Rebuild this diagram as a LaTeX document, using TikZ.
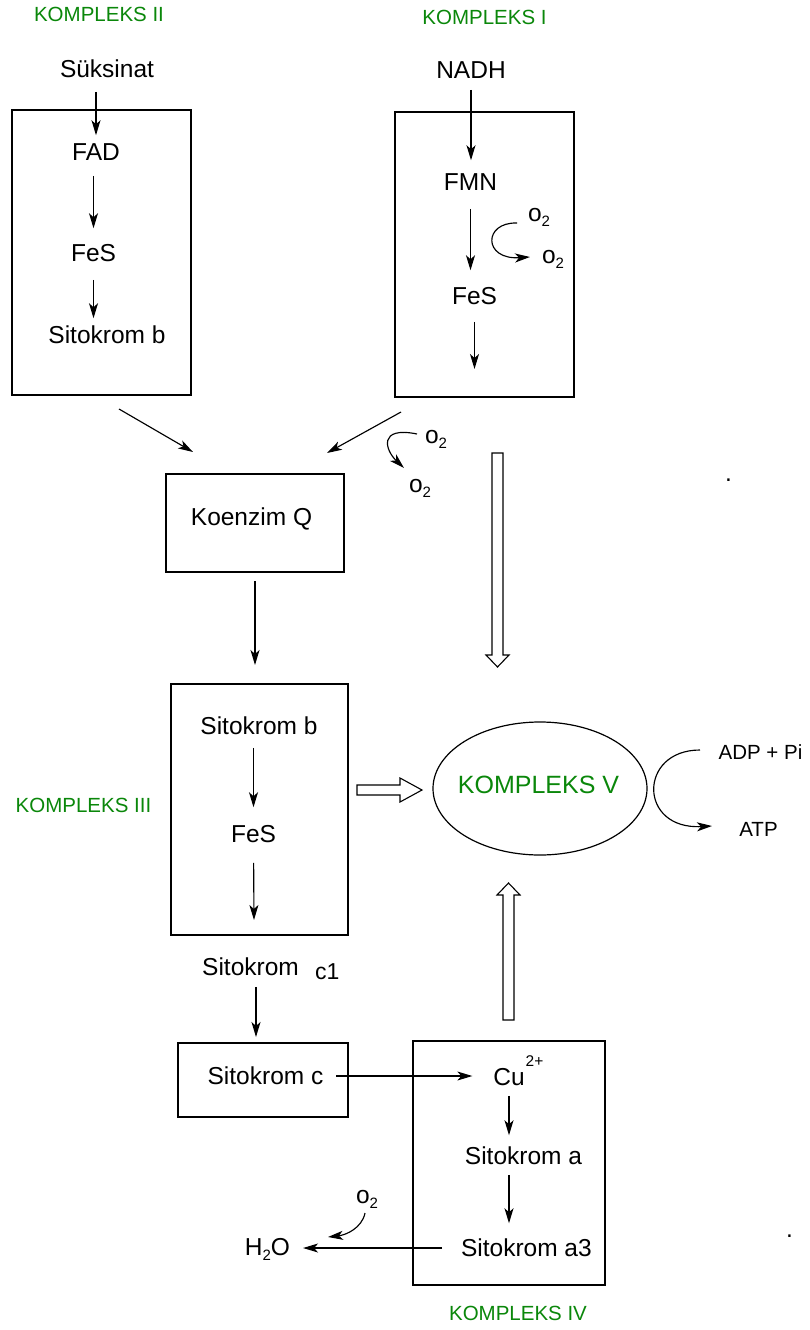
\documentclass[tikz,border=0pt]{standalone}
\usepackage{fontspec}
\setmainfont{Liberation Sans}
\usetikzlibrary{arrows.meta,shapes.geometric}
\definecolor{kgreen}{RGB}{10,135,10}
\newcommand{\oxtwo}{o\raisebox{-5.5pt}{\fontsize{15}{15}\selectfont 2}}
\begin{document}
\begin{tikzpicture}[x=1pt,y=-1pt,
  txt/.style={font=\fontsize{24.5}{29}\selectfont, inner sep=0pt, outer sep=0pt, text height=17.5pt, text depth=0pt},
  lbl/.style={font=\fontsize{20.5}{24}\selectfont, text=kgreen, inner sep=0pt, outer sep=0pt, text height=14.7pt, text depth=0pt},
  sml/.style={font=\fontsize{20.5}{24}\selectfont, inner sep=0pt, outer sep=0pt, text height=14.7pt, text depth=0pt},
  oxl/.style={font=\fontsize{24.5}{29}\selectfont, inner sep=0pt, outer sep=0pt, anchor=base west},
  boxs/.style={draw, line width=1.3pt, inner sep=0pt, outer sep=0pt},
  arr/.style={line width=1.15pt, -{Stealth[length=15pt,width=9pt,inset=4pt]}},
  blk/.style={draw, line width=1.1pt, fill=white, line join=miter}]
\useasboundingbox (0,0) rectangle (809,1330);

% ---------- boxes ----------
\node[boxs, minimum width=179pt, minimum height=285pt] (k2) at (101.5,252.5) {};
\node[boxs, minimum width=179pt, minimum height=285pt] (k1) at (484.5,254.5) {};
\node[boxs, minimum width=178pt, minimum height=98pt] (kq) at (255,523) {};
\node[boxs, minimum width=177pt, minimum height=251pt] (k3) at (259.5,809.5) {};
\node[boxs, minimum width=170pt, minimum height=74pt] (scbox) at (263,1080) {};
\node[boxs, minimum width=192pt, minimum height=244pt] (k4) at (509,1163) {};
\node[draw, ellipse, line width=1.2pt, inner sep=0pt, minimum width=214pt, minimum height=133pt] (k5) at (540,788.5) {};

% ---------- green labels ----------
\node[lbl] (lk2) at (99,14) {KOMPLEKS II};
\node[lbl] (lk1) at (484.5,17) {KOMPLEKS I};
\node[lbl] (lk3) at (83.5,805) {KOMPLEKS III};
\node[lbl] (lk4) at (518,1313) {KOMPLEKS IV};
\node[txt, font=\fontsize{25}{29}\selectfont, text=kgreen] (lk5) at (538.5,785) {KOMPLEKS V};

% ---------- Kompleks II ----------
\node[txt] (suk) at (107,69) {Süksinat};
\node[txt] (fad) at (96,151.5) {FAD};
\node[txt] (fesA) at (93.5,252.5) {FeS};
\node[txt] (sbA) at (107,334.5) {Sitokrom b};
\draw[arr, shorten <=14pt, shorten >=7.5pt] (fad |- suk.south) -- (fad.north);
\draw[arr, shorten <=15.5pt, shorten >=15.5pt] (fad.south -| fesA) -- (fesA.north);
\draw[arr, shorten <=18.5pt, shorten >=7.5pt] (fesA.south) -- (fesA.south |- sbA.north);

% ---------- Kompleks I ----------
\node[txt] (nadh) at (471,70) {NADH};
\node[txt] (fmn) at (470.5,181.5) {FMN};
\node[txt] (fesB) at (474.5,296) {FeS};
\coordinate (k1end) at (474.5,369);
\draw[arr, shorten <=11pt, shorten >=12.5pt] (nadh.south) -- (nadh.south |- fmn.north);
\draw[arr, shorten <=18.5pt, shorten >=17pt] (fmn.south) -- (fmn.south |- fesB.north);
\draw[arr, shorten <=17pt] (fesB.south) -- (k1end);
\node[oxl] (oxA) at (528,221) {\oxtwo};
\node[oxl] (oxB) at (542,263) {\oxtwo};
\coordinate (cA1) at (517,223);
\coordinate (cA2) at (530,257);
\draw[arr] (cA1) .. controls (483,222) and (483,260) .. (cA2);

% ---------- towards Koenzim Q ----------
\coordinate (d1s) at (119,409);
\coordinate (d1e) at (193,452);
\coordinate (d2s) at (401,412);
\coordinate (d2e) at (327,453);
\draw[arr] (d1s) -- (d1e);
\draw[arr] (d2s) -- (d2e);
\node[oxl] (oxC) at (425,443) {\oxtwo};
\node[oxl] (oxD) at (409,492) {\oxtwo};
\coordinate (cB1) at (417,434);
\coordinate (cB2) at (404,468);
\draw[arr] (cB1) .. controls (378,426) and (385,450) .. (cB2);

\node[txt] (kqt) at (251.5,517) {Koenzim Q};
\draw[arr, shorten <=9pt, shorten >=19pt] (kq.south) -- (kq.south |- k3.north);

% ---------- Kompleks III ----------
\node[txt] (sbB) at (259,725.5) {Sitokrom b};
\node[txt] (fesC) at (253.5,834) {FeS};
\coordinate (k3end) at (254,920);
\draw[arr, shorten <=13.5pt, shorten >=18pt] (sbB.south -| fesC) -- (fesC.north);
\draw[arr, shorten <=20pt] (fesC.south) -- (k3end);

\node[txt] (sc1) at (250.5,966.5) {Sitokrom};
\node[inner sep=0pt, anchor=base west, font=\fontsize{23}{26}\selectfont] (c1) at (315,979) {c1};
\draw[arr, shorten <=11.5pt, shorten >=6pt] ([xshift=5.5pt]sc1.south) -- ([xshift=5.5pt]sc1.south |- scbox.north);

\node[txt] (sct) at (265.5,1076) {Sitokrom c};

% ---------- Kompleks IV ----------
\node[txt] (cu) at (509,1077) {Cu\rlap{\kern1pt\raisebox{19pt}{\fontsize{15.5}{15.5}\selectfont 2+}}};
\node[txt] (sa) at (523.5,1155.5) {Sitokrom a};
\node[txt] (sa3) at (526.4,1248) {Sitokrom a3};
\node[txt] (h2o) at (267.5,1246.3) {H\raisebox{-5pt}{\fontsize{15}{15}\selectfont 2}O};
\draw[arr, shorten <=13pt, shorten >=21pt] (sct.east) -- (sct.east -| cu.west);
\draw[arr, shorten <=10pt, shorten >=11.5pt] (cu.south) -- (cu.south |- sa.north);
\draw[arr, shorten <=10.5pt, shorten >=16pt] (cu |- sa.south) -- (cu |- sa3.north);
\draw[arr, shorten <=19pt, shorten >=13pt] (sa3.west) -- (sa3.west -| h2o.east);
\node[oxl] (oxE) at (356,1203) {\oxtwo};
\coordinate (cC1) at (365,1213);
\coordinate (cC2) at (328,1237);
\draw[arr] (cC1) .. controls (362,1228) and (346,1235) .. (cC2);

% ---------- block arrows ----------
\draw[blk] (492,453) -- (503,453) -- (503,655) -- (509,655) -- (497.5,667) -- (486,655) -- (492,655) -- cycle;
\draw[blk] (357,785) -- (400,785) -- (400,778) -- (422,790) -- (400,802) -- (400,795) -- (357,795) -- cycle;
\draw[blk] (503,1020) -- (514,1020) -- (514,895) -- (520,895) -- (508.5,883) -- (497,895) -- (503,895) -- cycle;

% ---------- Kompleks V ----------
\node[sml] (adp) at (760.5,752) {ADP + Pi};
\node[sml] (atp) at (758.5,829.5) {ATP};
\coordinate (cD1) at (700,750);
\coordinate (cD2) at (712,826);
\draw[arr] (cD1) .. controls (638,750) and (638,830) .. (cD2);

% ---------- stray dots ----------
\node[inner sep=0pt, anchor=base, font=\fontsize{24.5}{29}\selectfont] (dotA) at (728.5,481) {.};
\node[inner sep=0pt, anchor=base, font=\fontsize{24.5}{29}\selectfont] (dotB) at (789.5,1237) {.};
\end{tikzpicture}
\end{document}
